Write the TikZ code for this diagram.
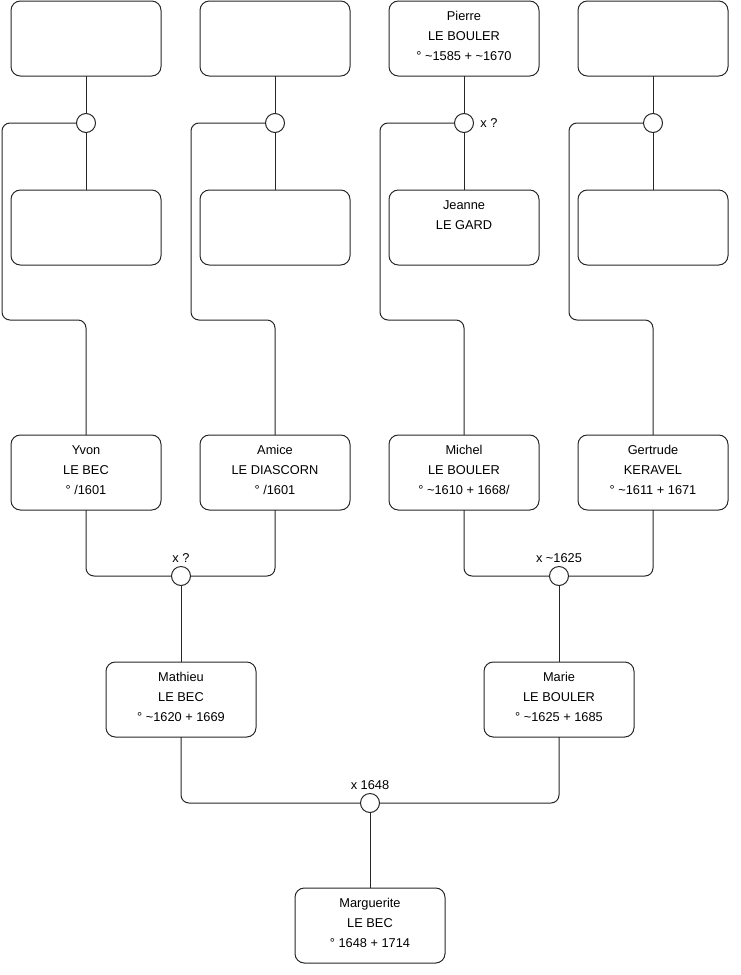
\documentclass[tikz,border=0pt]{standalone}
\usepackage{fontspec}
\setmainfont{Liberation Sans}
\newcommand\fl{\rule{0pt}{7.5pt}}
\newcommand\tld{\textasciitilde}
\tikzset{
 person/.style={draw=black!85, line width=0.75pt, rounded corners=7pt, minimum width=112.5pt, minimum height=56.25pt, inner sep=0pt, outer sep=0pt},
 ptext/.style={anchor=north, align=center, font=\fontsize{9.6pt}{15pt}\selectfont, inner sep=0pt},
 union/.style={draw=black!85, line width=0.75pt, circle, minimum size=14.25pt, inner sep=0pt, outer sep=0pt, fill=white},
 link/.style={draw=black!85, line width=0.75pt, rounded corners=6pt},
 mlabel/.style={font=\fontsize{9.6pt}{11pt}\selectfont, inner sep=0pt}
}
\begin{document}
\begin{tikzpicture}[x=0.75pt,y=-0.75pt]
\useasboundingbox (0,0) rectangle (740,975);
% row 1
\node[person] (t1) at (86,38.5) {};
\node[person] (t2) at (275,38.5) {};
\node[person] (t3) at (464,38.5) {};
\node[person] (t4) at (653,38.5) {};
\node[ptext] (t3x) at ([yshift=-7.1pt]t3.north) {\fl Pierre\\LE BOULER\\° \tld1585 + \tld1670};
% unions row 1
\node[union] (c1) at (86,123) {};
\node[union] (c2) at (275,123) {};
\node[union, label={[mlabel, label distance=5pt]right:x ?}] (c3) at (464,123) {};
\node[union] (c4) at (653,123) {};
% row 2
\node[person] (s1) at (86,227.5) {};
\node[person] (s2) at (275,227.5) {};
\node[person] (s3) at (464,227.5) {};
\node[person] (s4) at (653,227.5) {};
\node[ptext] (s3x) at ([yshift=-7.1pt]s3.north) {\fl Jeanne\\LE GARD};
% row 3
\node[person] (yvon) at (86,472.5) {};
\node[ptext] (yvonx) at ([yshift=-7.1pt]yvon.north) {\fl Yvon\\LE BEC\\° /1601};
\node[person] (amice) at (275,472.5) {};
\node[ptext] (amicex) at ([yshift=-7.1pt]amice.north) {\fl Amice\\LE DIASCORN\\° /1601};
\node[person] (michel) at (464,472.5) {};
\node[ptext] (michelx) at ([yshift=-7.1pt]michel.north) {\fl Michel\\LE BOULER\\° \tld1610 + 1668/};
\node[person] (gert) at (653,472.5) {};
\node[ptext] (gertx) at ([yshift=-7.1pt]gert.north) {\fl Gertrude\\KERAVEL\\° \tld1611 + 1671};
% unions row 3
\node[union, label={[mlabel, label distance=3pt]above:x ?}] (c5) at (181,576) {};
\node[union, label={[mlabel, label distance=3pt]above:x \tld1625}] (c6) at (559,576) {};
% row 4
\node[person] (mathieu) at (181,699.5) {};
\node[ptext] (mathieux) at ([yshift=-7.1pt]mathieu.north) {\fl Mathieu\\LE BEC\\° \tld1620 + 1669};
\node[person] (marie) at (559,699.5) {};
\node[ptext] (mariex) at ([yshift=-7.1pt]marie.north) {\fl Marie\\LE BOULER\\° \tld1625 + 1685};
% union row 4
\node[union, label={[mlabel, label distance=3pt]above:x 1648}] (c7) at (370,803) {};
% row 5
\node[person] (marg) at (370,925.5) {};
\node[ptext] (margx) at ([yshift=-7.1pt]marg.north) {\fl Marguerite\\LE BEC\\° 1648 + 1714};
% connectors
\foreach \i in {1,2,3,4}{
  \draw[link] (t\i.south) -- (c\i.north);
  \draw[link] (c\i.south) -- (s\i.north);
}
\draw[link] (c1.west) -| (2,320) -| (yvon.north);
\draw[link] (c2.west) -| (191,320) -| (amice.north);
\draw[link] (c3.west) -| (380,320) -| (michel.north);
\draw[link] (c4.west) -| (569,320) -| (gert.north);
\draw[link] (yvon.south) |- (c5.west);
\draw[link] (amice.south) |- (c5.east);
\draw[link] (michel.south) |- (c6.west);
\draw[link] (gert.south) |- (c6.east);
\draw[link] (c5.south) -- (mathieu.north);
\draw[link] (c6.south) -- (marie.north);
\draw[link] (mathieu.south) |- (c7.west);
\draw[link] (marie.south) |- (c7.east);
\draw[link] (c7.south) -- (marg.north);
\end{tikzpicture}
\end{document}
